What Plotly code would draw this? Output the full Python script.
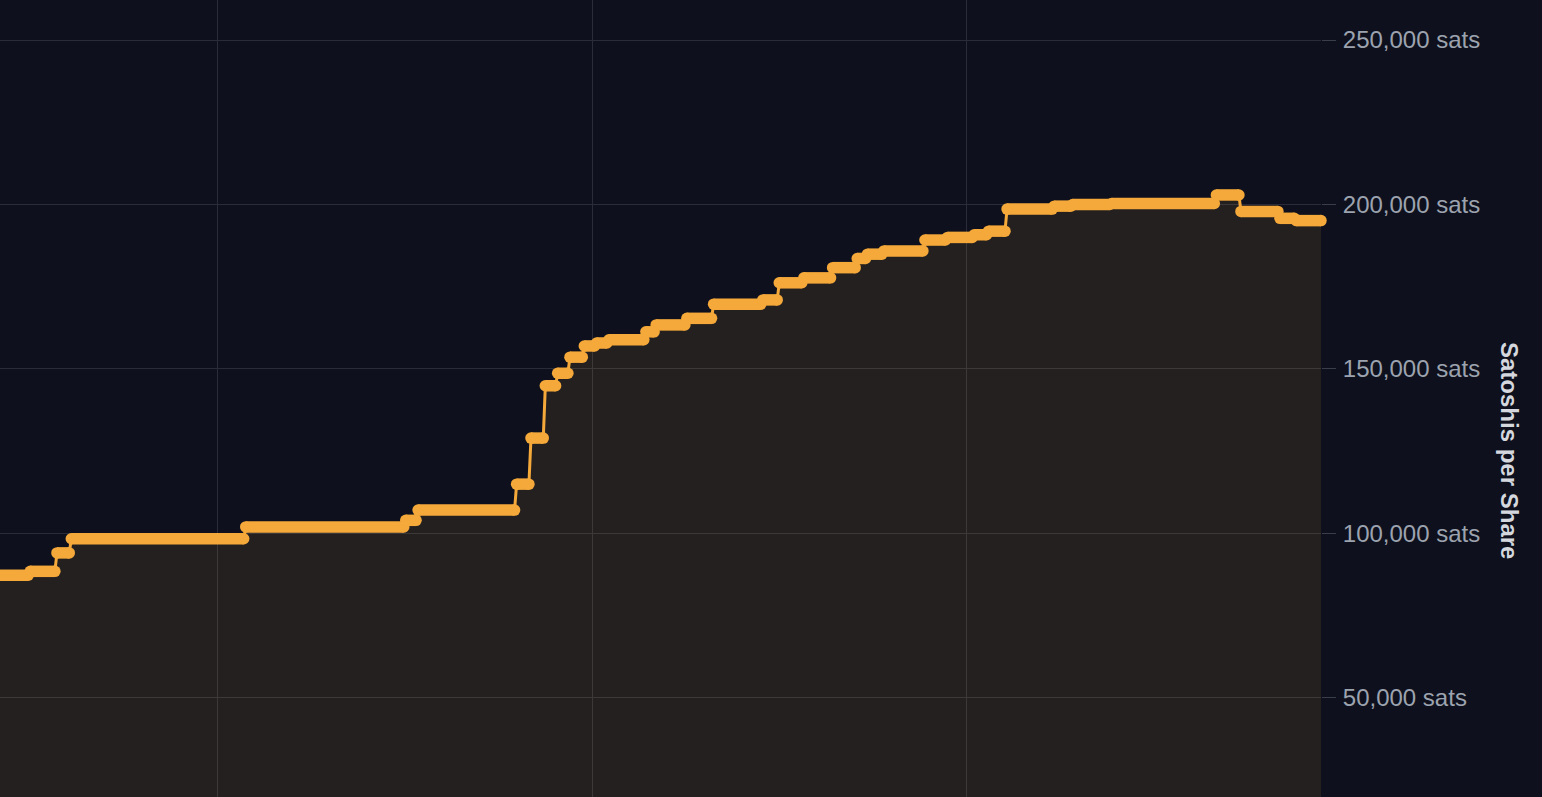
import plotly.graph_objects as go

# ── Palette ──────────────────────────────────────────────────────────────────
BG = "#0e111d"
GRID = "#2a2d39"
ORANGE = "#f5a93a"
FILL = "rgba(245,169,58,0.10)"
TICK_TXT = "#9ca3af"
TITLE_TXT = "#d4d7de"
FONT = "'Liberation Sans', Arial, Helvetica, sans-serif"

# ── Data: price plateaus (sats per share) ─────────────────────────────────────
plateau_start = [
    "2023-12-16", "2024-01-01", "2024-01-14", "2024-01-21", "2024-04-15",
    "2024-07-02", "2024-07-08", "2024-08-25", "2024-09-01", "2024-09-08",
    "2024-09-14", "2024-09-20", "2024-09-27", "2024-10-03", "2024-10-09",
    "2024-10-27", "2024-11-01", "2024-11-16", "2024-11-29", "2024-12-23",
    "2024-12-31", "2025-01-12", "2025-01-26", "2025-02-07", "2025-02-12",
    "2025-02-20", "2025-03-12", "2025-03-23", "2025-04-05", "2025-04-12",
    "2025-04-21", "2025-05-14", "2025-05-23", "2025-06-11", "2025-08-01",
    "2025-08-13", "2025-09-01", "2025-09-09",
]
plateau_end = [
    "2023-12-31", "2024-01-13", "2024-01-20", "2024-04-14", "2024-07-01",
    "2024-07-07", "2024-08-24", "2024-08-31", "2024-09-07", "2024-09-13",
    "2024-09-19", "2024-09-26", "2024-10-02", "2024-10-08", "2024-10-26",
    "2024-10-31", "2024-11-15", "2024-11-28", "2024-12-22", "2024-12-30",
    "2025-01-11", "2025-01-25", "2025-02-06", "2025-02-11", "2025-02-19",
    "2025-03-11", "2025-03-22", "2025-04-04", "2025-04-11", "2025-04-20",
    "2025-05-13", "2025-05-22", "2025-06-10", "2025-07-31", "2025-08-12",
    "2025-08-31", "2025-09-08", "2025-09-21",
]
plateau_value = [
    87300, 88500, 94100, 98400, 102000,
    104000, 107100, 115000, 129000, 144900,
    148700, 153600, 157000, 157900, 158900,
    161300, 163400, 165400, 169700, 171000,
    176200, 177700, 180800, 183600, 184900,
    185900, 189200, 190000, 190800, 191900,
    198600, 199500, 200000, 200300, 202900,
    197900, 195800, 195100,
]

y_ticks = [50000, 100000, 150000, 200000, 250000]
y_tick_text = [f"{v:,} sats" for v in y_ticks]

# connecting line (thin) through every plateau end point
line_x, line_y = [], []
for s, e, v in zip(plateau_start, plateau_end, plateau_value):
    line_x += [s, e]
    line_y += [v, v]

# thick plateau segments, broken between steps
seg_x, seg_y = [], []
for s, e, v in zip(plateau_start, plateau_end, plateau_value):
    seg_x += [s, e, None]
    seg_y += [v, v, None]

fig = go.Figure()

fig.add_trace(go.Scatter(
    x=line_x, y=line_y,
    mode="lines",
    line=dict(color=ORANGE, width=3),
    fill="tozeroy",
    fillcolor=FILL,
    hovertemplate="%{x|%b %d, %Y}<br>%{y:,} sats<extra></extra>",
    showlegend=False,
))

fig.add_trace(go.Scatter(
    x=seg_x, y=seg_y,
    mode="lines+markers",
    line=dict(color=ORANGE, width=11.5),
    marker=dict(color=ORANGE, size=11.5, line_width=0),
    connectgaps=False,
    cliponaxis=False,
    hoverinfo="skip",
    showlegend=False,
))

fig.update_layout(
    width=1542, height=797,
    paper_bgcolor=BG,
    plot_bgcolor=BG,
    font=dict(family=FONT, color=TICK_TXT, size=24),
    margin=dict(l=0, r=221, t=0, b=0),
    showlegend=False,
    xaxis=dict(
        type="date",
        range=["2023-12-17 06:00", "2025-09-21"],
        tick0="2024-04-01",
        dtick="M6",
        showticklabels=False,
        showgrid=True,
        gridcolor=GRID,
        gridwidth=1,
        zeroline=False,
        showline=False,
        ticks="",
    ),
    yaxis=dict(
        side="right",
        range=[19900, 262160],
        tickvals=y_ticks,
        ticktext=y_tick_text,
        tickfont=dict(size=24, color=TICK_TXT, family=FONT),
        ticks="outside",
        ticklen=14,
        tickwidth=1,
        tickcolor="#3a3e4b",
        ticklabelstandoff=2,
        showgrid=True,
        gridcolor=GRID,
        gridwidth=1,
        zeroline=False,
        showline=False,
    ),
    annotations=[dict(
        text="<b>Satoshis per Share</b>",
        xref="paper", yref="paper",
        x=1510 / 1321, y=1 - 450 / 797,
        xanchor="center", yanchor="middle",
        textangle=90,
        showarrow=False,
        font=dict(size=24, color=TITLE_TXT, family=FONT),
    )],
)

fig.write_html(
    "out.html",
    config={"displayModeBar": False},
    post_script="document.body.style.margin='0';"
                "document.body.style.overflow='hidden';",
)
